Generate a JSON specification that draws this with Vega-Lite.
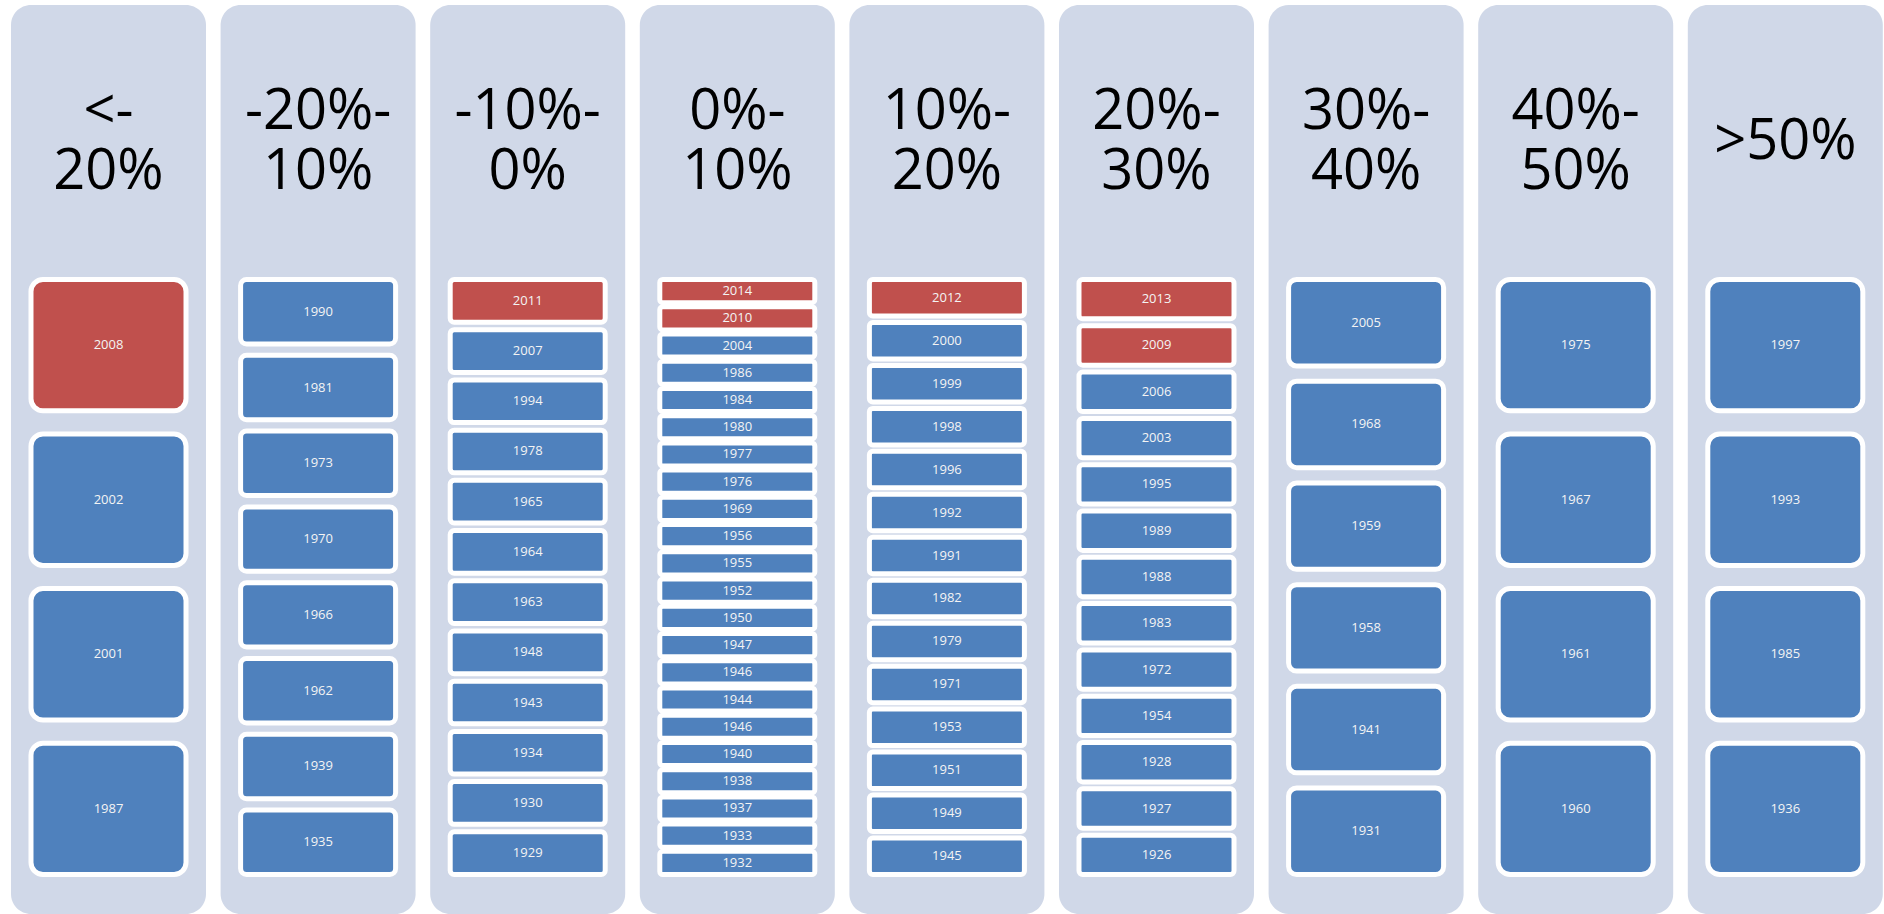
{
  "$schema": "https://vega.github.io/schema/vega-lite/v6.json",
  "background": "white",
  "padding": {"left": 11, "top": 5, "right": 0, "bottom": 0},
  "data": {
    "values": [
      {"range": "<-\n20%", "pos": 1, "year": "2008", "recent": "yes"},
      {"range": "<-\n20%", "pos": 2, "year": "2002", "recent": "no"},
      {"range": "<-\n20%", "pos": 3, "year": "2001", "recent": "no"},
      {"range": "<-\n20%", "pos": 4, "year": "1987", "recent": "no"},

      {"range": "-20%-\n10%", "pos": 1, "year": "1990", "recent": "no"},
      {"range": "-20%-\n10%", "pos": 2, "year": "1981", "recent": "no"},
      {"range": "-20%-\n10%", "pos": 3, "year": "1973", "recent": "no"},
      {"range": "-20%-\n10%", "pos": 4, "year": "1970", "recent": "no"},
      {"range": "-20%-\n10%", "pos": 5, "year": "1966", "recent": "no"},
      {"range": "-20%-\n10%", "pos": 6, "year": "1962", "recent": "no"},
      {"range": "-20%-\n10%", "pos": 7, "year": "1939", "recent": "no"},
      {"range": "-20%-\n10%", "pos": 8, "year": "1935", "recent": "no"},

      {"range": "-10%-\n0%", "pos": 1, "year": "2011", "recent": "yes"},
      {"range": "-10%-\n0%", "pos": 2, "year": "2007", "recent": "no"},
      {"range": "-10%-\n0%", "pos": 3, "year": "1994", "recent": "no"},
      {"range": "-10%-\n0%", "pos": 4, "year": "1978", "recent": "no"},
      {"range": "-10%-\n0%", "pos": 5, "year": "1965", "recent": "no"},
      {"range": "-10%-\n0%", "pos": 6, "year": "1964", "recent": "no"},
      {"range": "-10%-\n0%", "pos": 7, "year": "1963", "recent": "no"},
      {"range": "-10%-\n0%", "pos": 8, "year": "1948", "recent": "no"},
      {"range": "-10%-\n0%", "pos": 9, "year": "1943", "recent": "no"},
      {"range": "-10%-\n0%", "pos": 10, "year": "1934", "recent": "no"},
      {"range": "-10%-\n0%", "pos": 11, "year": "1930", "recent": "no"},
      {"range": "-10%-\n0%", "pos": 12, "year": "1929", "recent": "no"},

      {"range": "0%-\n10%", "pos": 1, "year": "2014", "recent": "yes"},
      {"range": "0%-\n10%", "pos": 2, "year": "2010", "recent": "yes"},
      {"range": "0%-\n10%", "pos": 3, "year": "2004", "recent": "no"},
      {"range": "0%-\n10%", "pos": 4, "year": "1986", "recent": "no"},
      {"range": "0%-\n10%", "pos": 5, "year": "1984", "recent": "no"},
      {"range": "0%-\n10%", "pos": 6, "year": "1980", "recent": "no"},
      {"range": "0%-\n10%", "pos": 7, "year": "1977", "recent": "no"},
      {"range": "0%-\n10%", "pos": 8, "year": "1976", "recent": "no"},
      {"range": "0%-\n10%", "pos": 9, "year": "1969", "recent": "no"},
      {"range": "0%-\n10%", "pos": 10, "year": "1956", "recent": "no"},
      {"range": "0%-\n10%", "pos": 11, "year": "1955", "recent": "no"},
      {"range": "0%-\n10%", "pos": 12, "year": "1952", "recent": "no"},
      {"range": "0%-\n10%", "pos": 13, "year": "1950", "recent": "no"},
      {"range": "0%-\n10%", "pos": 14, "year": "1947", "recent": "no"},
      {"range": "0%-\n10%", "pos": 15, "year": "1946", "recent": "no"},
      {"range": "0%-\n10%", "pos": 16, "year": "1944", "recent": "no"},
      {"range": "0%-\n10%", "pos": 17, "year": "1946", "recent": "no"},
      {"range": "0%-\n10%", "pos": 18, "year": "1940", "recent": "no"},
      {"range": "0%-\n10%", "pos": 19, "year": "1938", "recent": "no"},
      {"range": "0%-\n10%", "pos": 20, "year": "1937", "recent": "no"},
      {"range": "0%-\n10%", "pos": 21, "year": "1933", "recent": "no"},
      {"range": "0%-\n10%", "pos": 22, "year": "1932", "recent": "no"},

      {"range": "10%-\n20%", "pos": 1, "year": "2012", "recent": "yes"},
      {"range": "10%-\n20%", "pos": 2, "year": "2000", "recent": "no"},
      {"range": "10%-\n20%", "pos": 3, "year": "1999", "recent": "no"},
      {"range": "10%-\n20%", "pos": 4, "year": "1998", "recent": "no"},
      {"range": "10%-\n20%", "pos": 5, "year": "1996", "recent": "no"},
      {"range": "10%-\n20%", "pos": 6, "year": "1992", "recent": "no"},
      {"range": "10%-\n20%", "pos": 7, "year": "1991", "recent": "no"},
      {"range": "10%-\n20%", "pos": 8, "year": "1982", "recent": "no"},
      {"range": "10%-\n20%", "pos": 9, "year": "1979", "recent": "no"},
      {"range": "10%-\n20%", "pos": 10, "year": "1971", "recent": "no"},
      {"range": "10%-\n20%", "pos": 11, "year": "1953", "recent": "no"},
      {"range": "10%-\n20%", "pos": 12, "year": "1951", "recent": "no"},
      {"range": "10%-\n20%", "pos": 13, "year": "1949", "recent": "no"},
      {"range": "10%-\n20%", "pos": 14, "year": "1945", "recent": "no"},

      {"range": "20%-\n30%", "pos": 1, "year": "2013", "recent": "yes"},
      {"range": "20%-\n30%", "pos": 2, "year": "2009", "recent": "yes"},
      {"range": "20%-\n30%", "pos": 3, "year": "2006", "recent": "no"},
      {"range": "20%-\n30%", "pos": 4, "year": "2003", "recent": "no"},
      {"range": "20%-\n30%", "pos": 5, "year": "1995", "recent": "no"},
      {"range": "20%-\n30%", "pos": 6, "year": "1989", "recent": "no"},
      {"range": "20%-\n30%", "pos": 7, "year": "1988", "recent": "no"},
      {"range": "20%-\n30%", "pos": 8, "year": "1983", "recent": "no"},
      {"range": "20%-\n30%", "pos": 9, "year": "1972", "recent": "no"},
      {"range": "20%-\n30%", "pos": 10, "year": "1954", "recent": "no"},
      {"range": "20%-\n30%", "pos": 11, "year": "1928", "recent": "no"},
      {"range": "20%-\n30%", "pos": 12, "year": "1927", "recent": "no"},
      {"range": "20%-\n30%", "pos": 13, "year": "1926", "recent": "no"},

      {"range": "30%-\n40%", "pos": 1, "year": "2005", "recent": "no"},
      {"range": "30%-\n40%", "pos": 2, "year": "1968", "recent": "no"},
      {"range": "30%-\n40%", "pos": 3, "year": "1959", "recent": "no"},
      {"range": "30%-\n40%", "pos": 4, "year": "1958", "recent": "no"},
      {"range": "30%-\n40%", "pos": 5, "year": "1941", "recent": "no"},
      {"range": "30%-\n40%", "pos": 6, "year": "1931", "recent": "no"},

      {"range": "40%-\n50%", "pos": 1, "year": "1975", "recent": "no"},
      {"range": "40%-\n50%", "pos": 2, "year": "1967", "recent": "no"},
      {"range": "40%-\n50%", "pos": 3, "year": "1961", "recent": "no"},
      {"range": "40%-\n50%", "pos": 4, "year": "1960", "recent": "no"},

      {"range": ">50%", "pos": 1, "year": "1997", "recent": "no"},
      {"range": ">50%", "pos": 2, "year": "1993", "recent": "no"},
      {"range": ">50%", "pos": 3, "year": "1985", "recent": "no"},
      {"range": ">50%", "pos": 4, "year": "1936", "recent": "no"}
    ]
  },
  "facet": {
    "column": {
      "field": "range",
      "type": "nominal",
      "sort": ["<-\n20%", "-20%-\n10%", "-10%-\n0%", "0%-\n10%", "10%-\n20%", "20%-\n30%", "30%-\n40%", "40%-\n50%", ">50%"],
      "header": null
    }
  },
  "spacing": 14.6,
  "spec": {
    "width": 195,
    "height": 909,
    "transform": [{"joinaggregate": [{"op": "count", "as": "n"}], "groupby": ["range"]}],
    "layer": [
      {
        "mark": {"type": "rect", "stroke": "white", "strokeWidth": 5, "cornerRadius": {"expr": "clamp(48 / datum.n, 3, 12)"}},
        "encoding": {
          "x": {"field": "range", "type": "nominal", "axis": null, "scale": {"paddingInner": 0, "paddingOuter": 0.129}},
          "y": {"field": "pos", "type": "ordinal", "axis": null, "scale": {"range": [274.5, 869.5], "paddingInner": 0.15, "paddingOuter": 0}},
          "color": {"field": "recent", "type": "nominal", "legend": null, "scale": {"domain": ["yes", "no"], "range": ["#C0504D", "#4F81BD"]}}
        }
      },
      {
        "mark": {"type": "text", "fontSize": 13, "font": "Open Sans", "color": "#F4F4F4", "baseline": "middle"},
        "encoding": {
          "x": {"field": "range", "type": "nominal", "axis": null},
          "y": {"field": "pos", "type": "ordinal", "axis": null},
          "text": {"field": "year"}
        }
      },
      {
        "transform": [{"filter": "datum.pos == 1"}],
        "mark": {"type": "text", "fontSize": 56, "font": "Open Sans", "color": "black", "baseline": "middle", "lineBreak": "\n", "lineHeight": 60, "y": 137, "dy": {"expr": "-30 * (length(split(datum.range, '\\n')) - 1)"}},
        "encoding": {
          "x": {"field": "range", "type": "nominal", "axis": null},
          "text": {"field": "range"}
        }
      }
    ]
  },
  "resolve": {"scale": {"x": "independent", "y": "independent"}},
  "config": {
    "view": {"fill": "#D0D8E8", "stroke": null, "cornerRadius": 20}
  }
}
